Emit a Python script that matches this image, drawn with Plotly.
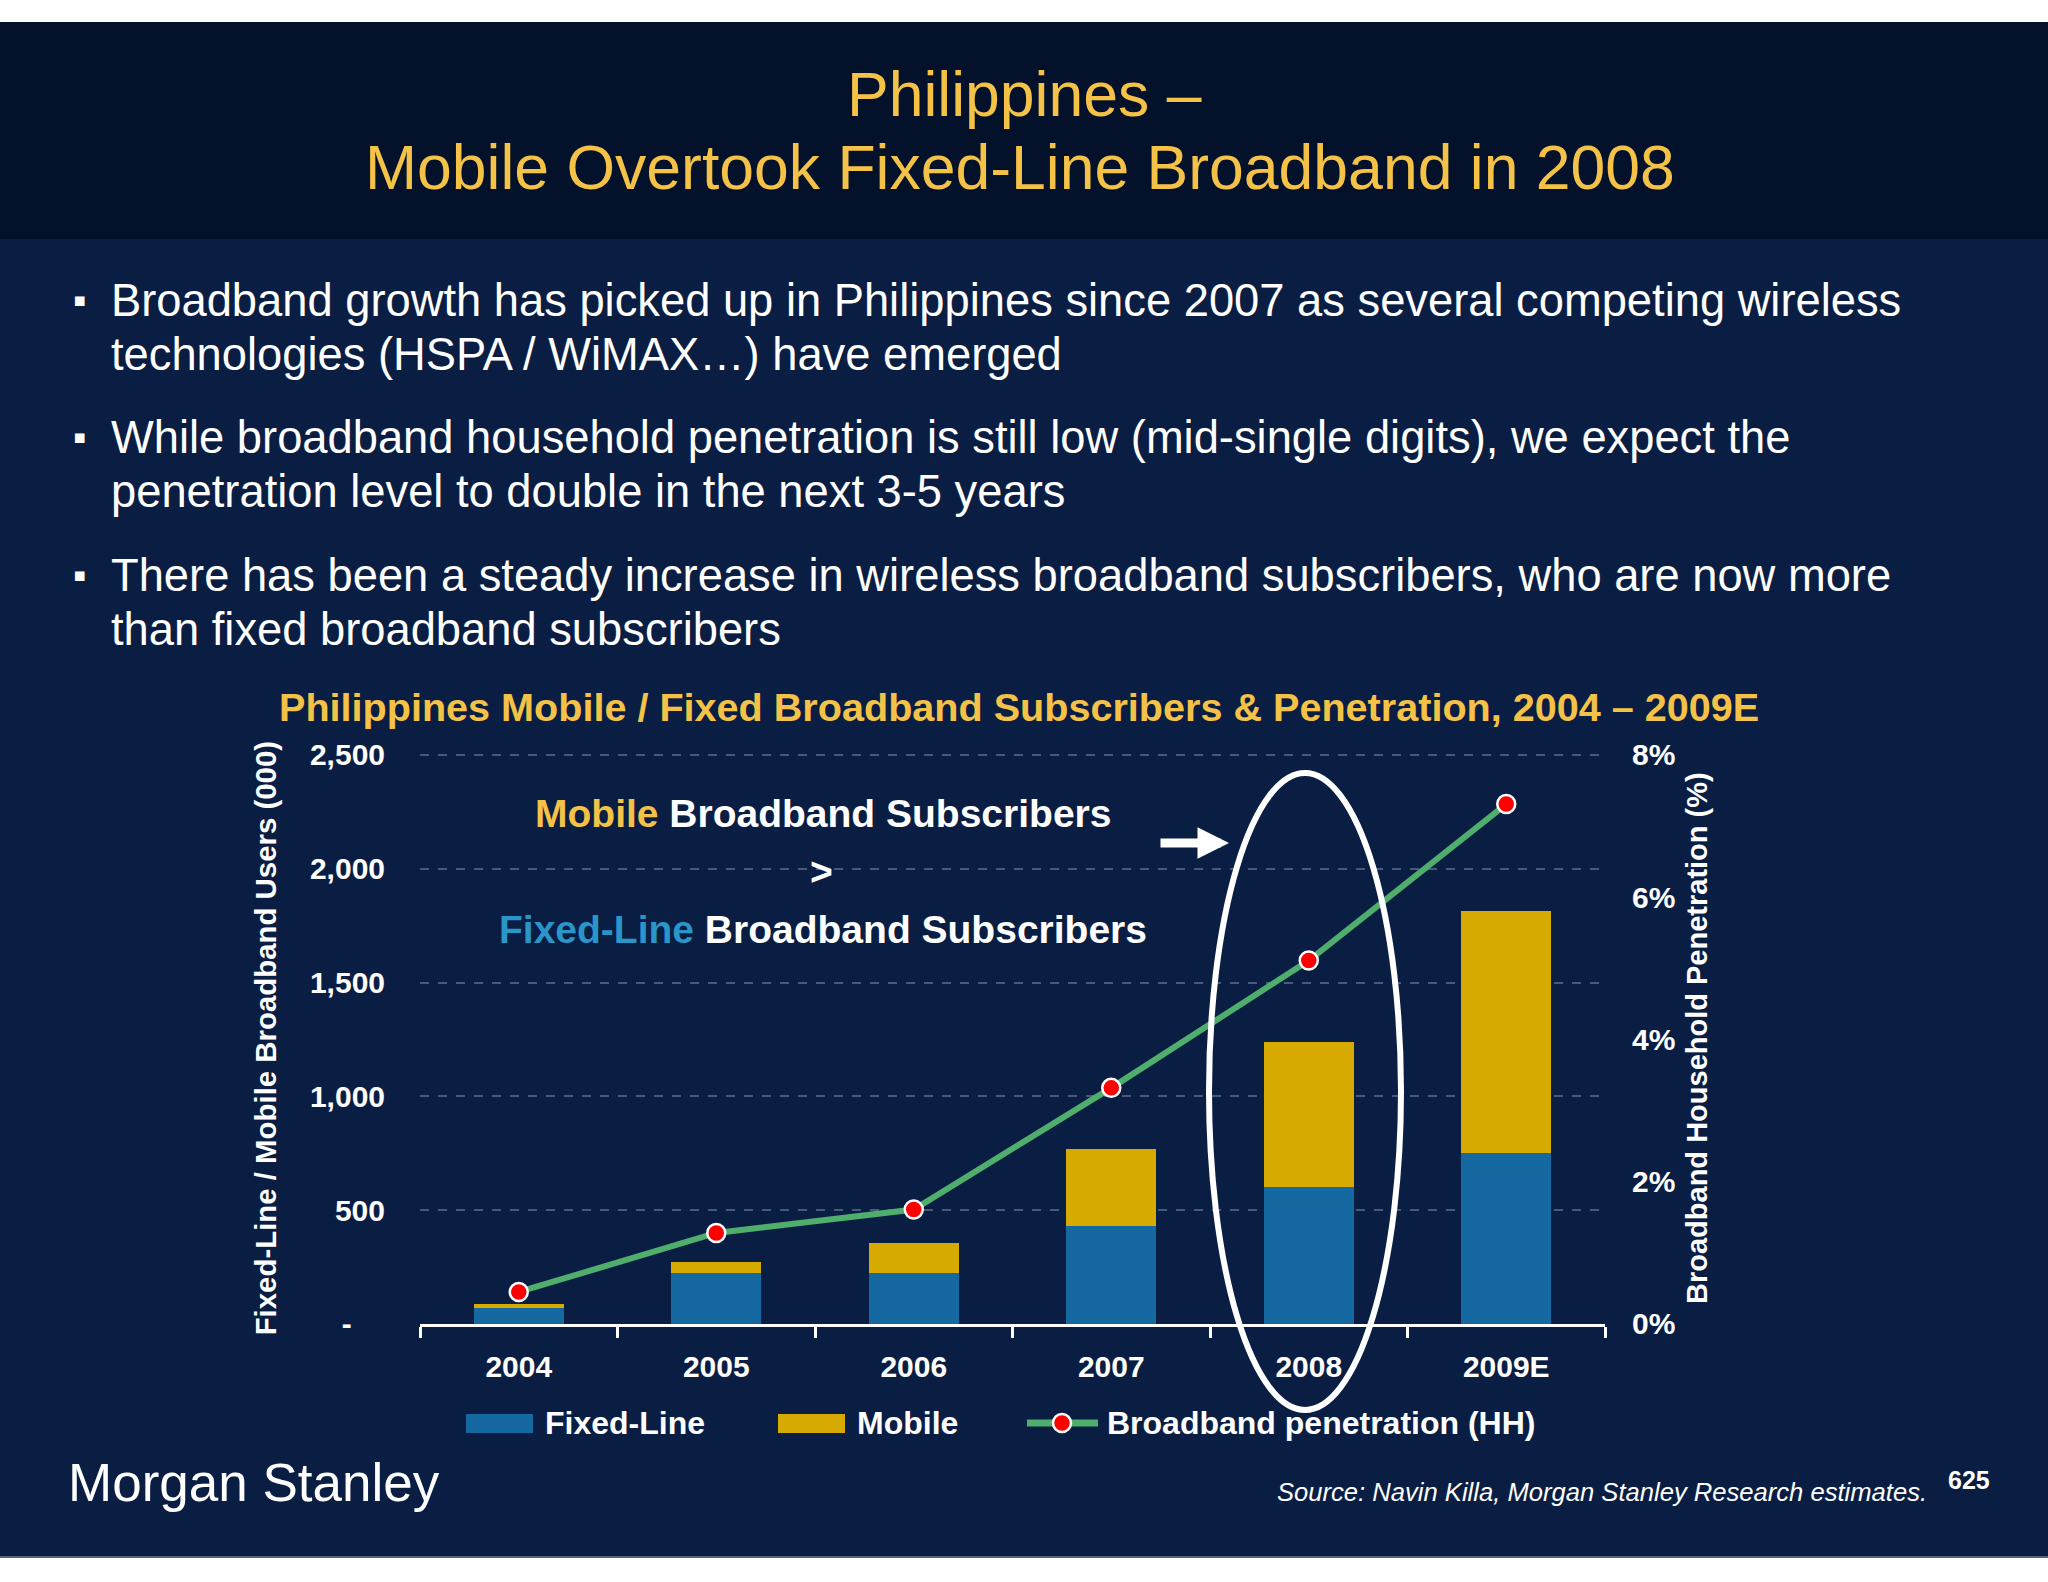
import plotly.graph_objects as go

# ---------------- data ----------------
years = ["2004", "2005", "2006", "2007", "2008", "2009E"]
fixed_line = [72, 225, 225, 430, 603, 753]          # 000 subscribers
mobile = [14, 48, 133, 340, 637, 1062]             # 000 subscribers
penetration_pct = [0.45, 1.28, 1.61, 3.32, 5.11, 7.31]  # % of households

left_tickvals = [0, 500, 1000, 1500, 2000, 2500]
left_ticktext = ["-" + "\u00a0" * 4, "500", "1,000", "1,500", "2,000", "2,500"]
right_tickvals = [0.0, 0.02, 0.04, 0.06, 0.08]
right_ticktext = ["0%", "2%", "4%", "6%", "8%"]

series_names = ["Fixed-Line", "Mobile", "Broadband penetration (HH)"]

title_line1 = "Philippines –"
title_line2 = "Mobile Overtook Fixed-Line Broadband in 2008"
bullets = [
    ["Broadband growth has picked up in Philippines since 2007 as several competing wireless",
     "technologies (HSPA / WiMAX…) have emerged"],
    ["While broadband household penetration is still low (mid-single digits), we expect the",
     "penetration level to double in the next 3-5 years"],
    ["There has been a steady increase in wireless broadband subscribers, who are now more",
     "than fixed broadband subscribers"],
]
chart_title = "Philippines Mobile / Fixed Broadband Subscribers & Penetration, 2004 – 2009E"
source_text = "Source: Navin Killa, Morgan Stanley Research estimates."
page_no = "625"

# ---------------- styling ----------------
W, H = 2048, 1582
FONT = "Liberation Sans, Arial, sans-serif"
GOLD = "#f4c247"
BLUE_TXT = "#2a95c8"
BODY = "#0a1e43"
HEADER = "#03112b"
FIXED = "#1668a0"
MOBILE = "#d6aa00"
GREEN = "#4fae6c"
RED = "#ff0000"

PX_PER_UNIT = (1324 - 755) / 2500
Y_TOP = 2512          # headroom so the 2,500 gridline is drawn inside the plot area
Y2_TOP = 0.08 * Y_TOP / 2500
PLOT_TOP = 1324 - Y_TOP * PX_PER_UNIT


def px(x):
    return x / W


def py(y):
    return 1 - y / H


fig = go.Figure()
fig.add_bar(x=years, y=fixed_line, name=series_names[0], showlegend=False,
            marker=dict(color=FIXED, line=dict(width=0)))
fig.add_bar(x=years, y=mobile, name=series_names[1], showlegend=False,
            marker=dict(color=MOBILE, line=dict(width=0)))
fig.add_scatter(x=years, y=[p / 100 for p in penetration_pct], yaxis="y2",
                mode="lines+markers", name=series_names[2], showlegend=False,
                line=dict(color=GREEN, width=6),
                marker=dict(color=RED, size=18, line=dict(color="white", width=2.5)))

tickfont = dict(family=FONT, size=30, color="white", weight="bold")


def note(text, x, y, size, color="white", xanchor="center", **kw):
    return dict(text=text, x=px(x), y=py(y), xref="paper", yref="paper",
                showarrow=False, xanchor=xanchor, yanchor="middle",
                font=dict(family=FONT, size=size, color=color), **kw)


annotations = []
# header titles
annotations.append(note(title_line1, 1024, 94, 62.5, GOLD))
annotations.append(note(title_line2, 1020, 167, 62.5, GOLD))
# bullets
bullet_y = [(300, 355), (437, 492), (575, 629)]
for lines, ys in zip(bullets, bullet_y):
    annotations.append(note("▪", 71, ys[0], 38, xanchor="left"))
    for line, yy in zip(lines, ys):
        annotations.append(note(line, 109, yy, 45.3, xanchor="left"))
# chart title
annotations.append(note("<b>" + chart_title + "</b>", 1019, 707, 39.6, GOLD))
# in-chart callout
annotations.append(note(f"<b><span style='color:{GOLD}'>Mobile</span> Broadband Subscribers</b>",
                        823, 814, 39))
annotations.append(note("<b>&gt;</b>", 821, 871, 39))
annotations.append(note(f"<b><span style='color:{BLUE_TXT}'>Fixed-Line</span> Broadband Subscribers</b>",
                        823, 930, 39))
# arrow
annotations.append(dict(text="", x=px(1229), y=py(843), xref="paper", yref="paper",
                        showarrow=True, ax=-70, ay=0, axref="pixel", ayref="pixel",
                        arrowhead=2, arrowsize=0.7, arrowwidth=9, arrowcolor="white"))
# legend labels
annotations.append(note("<b>" + series_names[0] + "</b>", 543, 1423, 32, xanchor="left"))
annotations.append(note("<b>" + series_names[1] + "</b>", 855, 1423, 32, xanchor="left"))
annotations.append(note("<b>" + series_names[2] + "</b>", 1105, 1423, 32, xanchor="left"))
# footer
annotations.append(note("Morgan Stanley", 66, 1482, 53, xanchor="left"))
annotations.append(note("<i>" + source_text + "</i>", 1929, 1492, 25.6, xanchor="right"))
annotations.append(note("<b>" + page_no + "</b>", 1969, 1480, 25))

shapes = [
    dict(type="rect", xref="paper", yref="paper", x0=0, x1=1, y0=py(22), y1=1,
         fillcolor="white", line=dict(width=0), layer="below"),
    dict(type="rect", xref="paper", yref="paper", x0=0, x1=1, y0=py(239), y1=py(22),
         fillcolor=HEADER, line=dict(width=0), layer="below"),
    dict(type="rect", xref="paper", yref="paper", x0=0, x1=1, y0=0, y1=py(1557),
         fillcolor="white", line=dict(width=0), layer="below"),
    dict(type="line", xref="paper", yref="paper", x0=0, x1=1, y0=py(1557), y1=py(1557),
         line=dict(color="#56647a", width=2), layer="below"),
    # highlight ellipse around 2008
    dict(type="circle", xref="paper", yref="paper", x0=px(1209), x1=px(1401),
         y0=py(1410), y1=py(773), line=dict(color="white", width=6)),
    # legend swatches
    dict(type="rect", xref="paper", yref="paper", x0=px(466), x1=px(533),
         y0=py(1433), y1=py(1414), fillcolor=FIXED, line=dict(width=0)),
    dict(type="rect", xref="paper", yref="paper", x0=px(778), x1=px(845),
         y0=py(1433), y1=py(1414), fillcolor=MOBILE, line=dict(width=0)),
    dict(type="line", xref="paper", yref="paper", x0=px(1027), x1=px(1098),
         y0=py(1423), y1=py(1423), line=dict(color=GREEN, width=7)),
    dict(type="circle", xref="paper", yref="paper", x0=px(1053), x1=px(1071),
         y0=py(1432), y1=py(1414), fillcolor=RED, line=dict(color="white", width=2.5)),
]

fig.update_layout(
    width=W, height=H,
    margin=dict(l=0, r=0, t=0, b=0),
    paper_bgcolor=BODY, plot_bgcolor="rgba(0,0,0,0)",
    barmode="stack", bargap=0.545,
    font=dict(family=FONT, color="white"),
    xaxis=dict(domain=[px(420), px(1605)], type="category",
               showline=True, linecolor="white", linewidth=3,
               ticks="outside", tickson="boundaries", ticklen=11, tickwidth=2.5,
               tickcolor="white", tickfont=tickfont, showgrid=False,
               ticklabelstandoff=14, automargin=False),
    yaxis=dict(domain=[py(1324), py(PLOT_TOP)], range=[0, Y_TOP],
               tickvals=left_tickvals, ticktext=left_ticktext, tickfont=tickfont,
               showgrid=True, gridcolor="rgba(150,162,185,0.45)", griddash="dash",
               gridwidth=1.5, zeroline=False, showline=False, ticks="",
               ticklabelstandoff=34, automargin=False,
               title=dict(text="Fixed-Line / Mobile Broadband Users (000)",
                          font=dict(family=FONT, size=29.4, color="white", weight="bold"),
                          standoff=24)),
    yaxis2=dict(overlaying="y", side="right", range=[0, Y2_TOP],
                tickvals=right_tickvals, ticktext=right_ticktext, tickfont=tickfont,
                showgrid=False, zeroline=False, showline=False, ticks="",
                ticklabelstandoff=26, automargin=False,
                title=dict(text="Broadband Household Penetration (%)",
                           font=dict(family=FONT, size=29, color="white", weight="bold"),
                           standoff=12)),
    showlegend=False,
    annotations=annotations,
    shapes=shapes,
)

fig.write_html("out.html",
               config={"displayModeBar": False},
               post_script="document.body.style.margin='0px';"
                           "document.body.style.overflow='hidden';")
